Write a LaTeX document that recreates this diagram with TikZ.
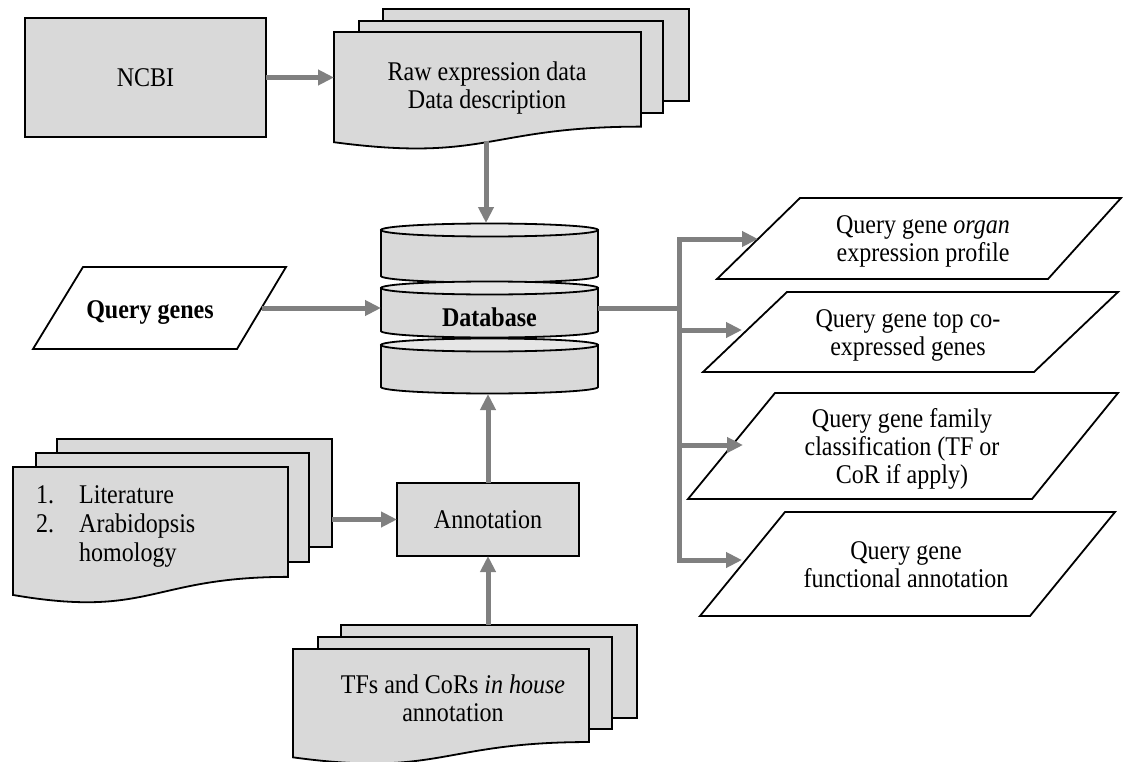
\documentclass[tikz,border=0pt]{standalone}
\usepackage{fontspec}
\setmainfont{Liberation Serif}[FakeStretch=0.89]
\usetikzlibrary{arrows.meta}
\definecolor{boxfill}{HTML}{D9D9D9}
\definecolor{dbtopfill}{HTML}{E6E6E6}
\definecolor{arrowgray}{HTML}{808080}
\tikzset{
  outline/.style={draw=black, line width=1.8pt, line join=miter},
  graybox/.style={outline, fill=boxfill},
  whitebox/.style={outline, fill=white},
  lbl/.style={font=\fontsize{27}{28}\selectfont, align=center, inner sep=0pt},
  boldlbl/.style={lbl, font=\fontsize{27}{28}\selectfont\bfseries},
  arr/.style={draw=arrowgray, line width=5pt, -{Triangle[length=16pt,width=15pt]}},
}
% document shape with wavy bottom: x1, x2, top, height
\newcommand\docwave[4]{%
  \path[graybox] (#1,#3) -- (#2,#3) -- (#2,{#3+0.802*#4})
    .. controls ({(#1+#2)/2},{#3+0.802*#4}) and ({(#1+#2)/2},{#3+1.107*#4}) ..
    (#1,{#3+0.934*#4}) -- cycle;}
% one disk of the database cylinder: top ellipse centre y, bottom arc centre y
\newcommand\dbdisk[2]{%
  \path[graybox] (381,#1) -- (381,#2)
    .. controls (381,{#2+3.6}) and (429.6,{#2+6.5}) .. (489.5,{#2+6.5})
    .. controls (549.4,{#2+6.5}) and (598,{#2+3.6}) .. (598,#2)
    -- (598,#1) -- cycle;
  \path[outline, fill=dbtopfill] (489.5,#1) ellipse [x radius=108.5, y radius=6.5];}
\begin{document}
\begin{tikzpicture}[x=1pt, y=-1pt]
\useasboundingbox (0,0) rectangle (1123,762);

% NCBI
\node[graybox, lbl, minimum width=241pt, minimum height=119pt, outer sep=0pt] (ncbi) at (145.5,77.5) {NCBI};

% raw data documents
\path[graybox] (383,9) rectangle (689,101);
\path[graybox] (359,21) rectangle (663,113);
\docwave{334}{641}{32}{118}
\node[lbl] (raw) at (487,88) {Raw expression data\\Data description};
\coordinate (rawW) at (334,77.5);
\coordinate (rawS) at (486,141);

% database
\dbdisk{230}{276}
\dbdisk{288}{331}
\dbdisk{345}{387}
\node[boldlbl] (db) at (489.5,317) {Database};
\coordinate (dbN) at (486,223);
\coordinate (dbW) at (381,308);
\coordinate (dbE) at (598,308);
\coordinate (dbS) at (488,394);

% query genes
\path[whitebox] (83,267) -- (286,267) -- (237,349) -- (33,349) -- cycle;
\node[boldlbl] (qg) at (150,313) {Query genes};
\coordinate (qgE) at (261.5,308);

% literature documents
\path[graybox] (57,439) rectangle (332,547);
\path[graybox] (36,453) rectangle (309,562);
\docwave{13}{288}{467}{137}
\node[lbl, font=\fontsize{27}{29}\selectfont, anchor=west] (lit) at (36,527)
  {\begin{tabular}{@{}p{43pt}@{}l@{}}1.&Literature\\2.&Arabidopsis\\&homology\end{tabular}};
\coordinate (litE) at (332,519.5);

% annotation
\node[graybox, lbl, minimum width=182pt, minimum height=73pt, outer sep=0pt] (anno) at (488,519.5) {Annotation};

% TF documents
\path[graybox] (341,625) rectangle (637,718);
\path[graybox] (318,637) rectangle (612,729);
\docwave{293}{589}{649}{116}
\node[lbl] (tf) at (453,698) {TFs and CoRs \textit{in house}\\annotation};
\coordinate (tfN) at (488,625);

% output parallelograms
\path[whitebox] (800,198) -- (1121,198) -- (1048,279) -- (717,279) -- cycle;
\node[lbl] (o1) at (923,241) {Query gene \textit{organ}\\expression profile};
\path[whitebox] (787,292) -- (1118,292) -- (1034,372) -- (703,372) -- cycle;
\node[lbl] (o2) at (908,335) {Query gene top co-\\expressed genes};
\path[whitebox] (775,393) -- (1118,393) -- (1032,499) -- (688,499) -- cycle;
\node[lbl] (o3) at (902,449) {Query gene family\\classification (TF or\\CoR if apply)};
\path[whitebox] (785,512) -- (1115,512) -- (1030,616) -- (700,616) -- cycle;
\node[lbl] (o4) at (906,565) {Query gene\\functional annotation};
\coordinate (p1w) at (758,239);
\coordinate (p2w) at (742,330);
\coordinate (p3w) at (743,445);
\coordinate (p4w) at (742,560);
\coordinate (hub) at (679,308);

% connectors
\draw[arr] (ncbi.east) -- (rawW);
\draw[arr] (rawS) -- (dbN);
\draw[arr] (qgE) -- (dbW);
\draw[arr] (litE) -- (anno.west);
\draw[arr] (anno.north) -- (dbS);
\draw[arr] (tfN) -- (anno.south);
\draw[arr] (dbE) -- (hub) |- (p1w);
\draw[arr] (dbE) -- (hub) |- (p2w);
\draw[arr] (dbE) -- (hub) |- (p3w);
\draw[arr] (dbE) -- (hub) |- (p4w);
\end{tikzpicture}
\end{document}
